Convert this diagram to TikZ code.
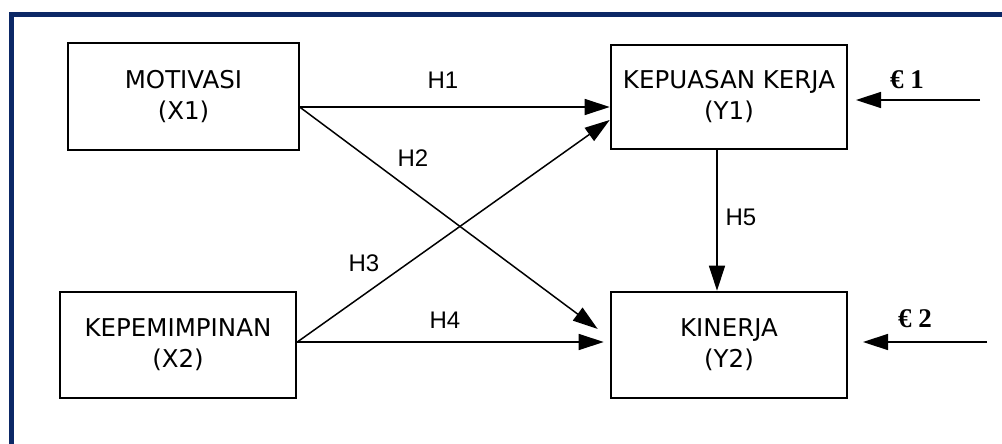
\documentclass[tikz,border=0pt]{standalone}
\usepackage{fontspec}
\usetikzlibrary{arrows.meta,calc}
\newfontfamily\boxfont{DejaVu Sans}
\newfontfamily\lblfont{Liberation Sans}
\newfontfamily\epsfont{Liberation Serif}
\definecolor{framenavy}{RGB}{12,40,102}
\begin{document}
\begin{tikzpicture}[x=1pt,y=-1pt,
  varbox/.style={draw,line width=2.6pt,align=center,inner sep=0pt,
    font=\boxfont\fontsize{24.5}{31}\selectfont},
  hlabel/.style={font=\lblfont\fontsize{24}{28}\selectfont,inner sep=0pt},
  elabel/.style={font=\epsfont\bfseries\fontsize{27}{30}\selectfont,inner sep=0pt},
  conn/.style={line width=1.5pt,-{Triangle[length=25pt,width=16pt]}}]
\useasboundingbox (0,0) rectangle (1002,444);
\fill[white] (0,0) rectangle (1002,444);
\draw[framenavy,line width=5pt] (11,446) -- (11,14.5) -- (1004,14.5);

\node[varbox,minimum width=231pt,minimum height=107pt] (x1) at (183.5,96.5) {MOTIVASI\\(X1)};
\node[varbox,minimum width=236pt,minimum height=106pt] (x2) at (178,345) {KEPEMIMPINAN\\(X2)};
\node[varbox,minimum width=236pt,minimum height=104pt] (y1) at (729,97) {KEPUASAN KERJA\\(Y1)};
\node[varbox,minimum width=236pt,minimum height=106pt] (y2) at (729,345) {KINERJA\\(Y2)};

\coordinate (e1s) at (980,100);
\coordinate (e1t) at (856,100);
\coordinate (e2s) at (987,342);
\coordinate (e2t) at (863,342);

\draw[conn] ([yshift=-10.5pt]x1.east) -- ([yshift=-10.5pt]x1.east -| y1.west);
\draw[conn] ([yshift=-11pt]x1.east) -- ([xshift=-12pt,yshift=16pt]y2.west);
\draw[conn] ([yshift=3pt]x2.east) -- ([yshift=-23pt]y1.west);
\draw[conn] ([yshift=3pt]x2.east) -- ([xshift=-6pt,yshift=3pt]y2.west);
\draw[conn] ([xshift=-12pt]y1.south) -- ([xshift=-12pt]y2.north);
\draw[conn] (e1s) -- (e1t);
\draw[conn] (e2s) -- (e2t);

\node[hlabel] (h1) at (443,80.5) {H1};
\node[hlabel] (h2) at (413,158) {H2};
\node[hlabel] (h3) at (364,263) {H3};
\node[hlabel] (h4) at (445,320) {H4};
\node[hlabel] (h5) at (741,217) {H5};
\node[elabel] (l1) at (907,80) {€ 1};
\node[elabel] (l2) at (915,319) {€ 2};
\end{tikzpicture}
\end{document}
